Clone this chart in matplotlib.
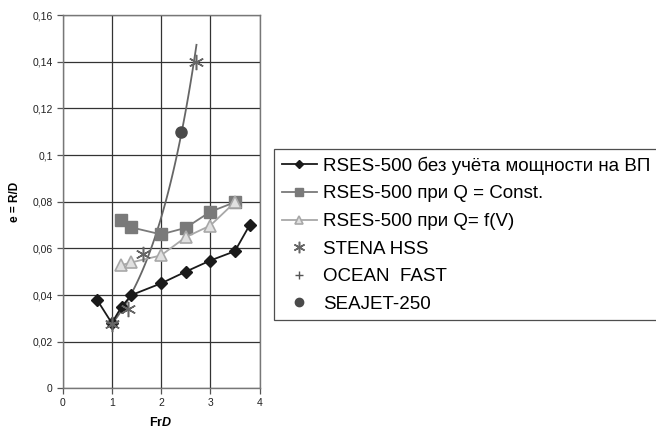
import numpy as np
import matplotlib
matplotlib.use("Agg")
import matplotlib.pyplot as plt
from matplotlib.ticker import FuncFormatter

plt.rcParams['font.family'] = ['Liberation Sans', 'DejaVu Sans']
plt.rcParams['mathtext.fontset'] = 'custom'
plt.rcParams['mathtext.rm'] = 'Liberation Sans'
plt.rcParams['mathtext.it'] = 'Liberation Sans:italic'
plt.rcParams['mathtext.bf'] = 'Liberation Sans:bold'
plt.rcParams['mathtext.bfit'] = 'Liberation Sans:bold:italic'

# data
fr_base = [0.7, 1.0, 1.2, 1.4, 2.0, 2.5, 3.0, 3.5, 3.8]
e_base = [0.038, 0.028, 0.035, 0.040, 0.045, 0.050, 0.0548, 0.0588, 0.070]

fr_qconst = [1.18, 1.4, 2.0, 2.5, 3.0, 3.5]
e_qconst = [0.072, 0.069, 0.066, 0.0688, 0.0757, 0.0798]

fr_qv = [1.19, 1.4, 2.0, 2.5, 3.0, 3.5]
e_qv = [0.0528, 0.054, 0.057, 0.0648, 0.0698, 0.0798]

fr_stena = [1.0, 1.32, 1.63, 2.71]
e_stena = [0.0275, 0.034, 0.0578, 0.1398]

fr_ocean = [1.0]
e_ocean = [0.028]

fr_seajet = [2.4]
e_seajet = [0.1097]

labels = ['RSES-500 без учёта мощности на ВП',
          'RSES-500 при Q = Const.',
          'RSES-500 при Q= f(V)',
          'STENA HSS',
          'OCEAN  FAST',
          'SEAJET-250']

fig = plt.figure(figsize=(6.56, 4.32), dpi=100)
ax = fig.add_axes([0.0953, 0.101, 0.3003, 0.864])

# exponential trend line through the ship points (like a spreadsheet trendline)
tx = np.array(fr_stena + fr_seajet)
ty = np.array(e_stena + e_seajet)
k, b = np.polyfit(tx, np.log(ty), 1)
xs = np.linspace(1.0, 2.72, 100)
ax.plot(xs, np.exp(b + k * xs), color='#666666', lw=1.3, zorder=3)

h1, = ax.plot(fr_base, e_base, color='#1a1a1a', lw=1.3, marker='D', ms=6,
              mfc='#1a1a1a', mec='#1a1a1a', zorder=5)
h2, = ax.plot(fr_qconst, e_qconst, color='#7a7a7a', lw=1.3, marker='s', ms=8,
              mfc='#7a7a7a', mec='#7a7a7a', zorder=4)
h3, = ax.plot(fr_qv, e_qv, color='#a8a8a8', lw=1.3, marker='^', ms=8,
              mfc='#e0e0e0', mec='#a8a8a8', mew=1.2, zorder=4)
h5, = ax.plot(fr_ocean, e_ocean, ls='none', marker='+', ms=8, color='#555555', zorder=5)
h4, = ax.plot(fr_stena, e_stena, ls='none', marker=(6, 2, 0), ms=11, mew=1.1,
              color='#666666', zorder=6)
h6, = ax.plot(fr_seajet, e_seajet, ls='none', marker='o', ms=8, color='#4a4a4a', zorder=6)

ax.set_xlim(0, 4)
ax.set_ylim(0, 0.16)
ax.set_xticks(np.arange(0, 5, 1))
ax.set_yticks(np.arange(0, 0.161, 0.02))
ax.yaxis.set_major_formatter(FuncFormatter(lambda v, p: ('%g' % round(v, 2)).replace('.', ',')))
ax.grid(True, color='#333333', lw=0.9)
ax.set_axisbelow(True)
for s in ax.spines.values():
    s.set_color('#777777')
    s.set_linewidth(1.0)
ax.tick_params(direction='out', length=4, width=0.9, color='#555555',
               labelsize=7.5, labelcolor='#222222', pad=3)

ax.set_ylabel('e = R/D', fontsize=8.5, fontweight='bold', labelpad=8)
ax.set_xlabel(r'$\mathbf{Fr}\mathbfit{D}$', fontsize=9, labelpad=6)

leg = fig.legend([h1, h2, h3, h4, h5, h6], labels, loc='upper left',
                 bbox_to_anchor=(0.4177, 0.655), fontsize=13.5, frameon=True,
                 fancybox=False, edgecolor='#222222', handlelength=1.9,
                 handletextpad=0.3, labelspacing=0.56, borderpad=0.4,
                 borderaxespad=0, markerscale=0.75)
leg.get_frame().set_linewidth(0.9)

fig.savefig('out.png', dpi=100)
